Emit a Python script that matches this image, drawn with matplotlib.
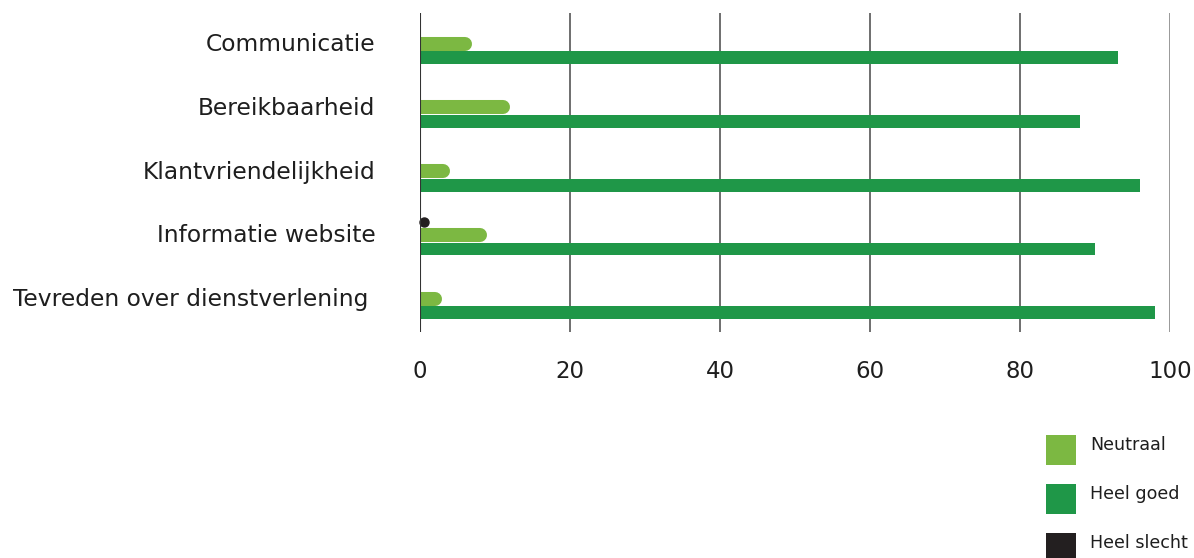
import matplotlib
matplotlib.use("Agg")
import matplotlib.pyplot as plt
from matplotlib.patches import Rectangle
import matplotlib.transforms as mtransforms
import numpy as np

categories = ["Communicatie", "Bereikbaarheid", "Klantvriendelijkheid",
              "Informatie website", "Tevreden over dienstverlening "]
neutraal = [7, 12, 4, 9, 3]
heel_goed = [93, 88, 96, 90, 98]
heel_slecht = [0, 0, 0, 1, 0]
xticks = [0, 20, 40, 60, 80, 100]
legend_labels = ["Neutraal", "Heel goed", "Heel slecht"]

c_light = "#7cb842"
c_dark = "#1f9748"
c_black = "#231f20"
c_text = "#1e1e1e"
colors = [c_light, c_dark, c_black]

W, H, DPI = 1194, 558, 100
fig = plt.figure(figsize=(W / DPI, H / DPI), dpi=DPI)
plt.rcParams["font.family"] = ["DejaVu Sans"]

left, right, top, bottom = 420, 1170, 13, 332
ax = fig.add_axes([left / W, 1 - bottom / H, (right - left) / W, (bottom - top) / H])

y = np.arange(len(categories))
bh = 0.22
px_per_unit = (right - left) / 100.0
bar_px = bh * (bottom - top) / len(categories)
lw_pt = bar_px * 72 / DPI
r_units = (bar_px / 2) / px_per_unit

# Heel goed: square bars
ax.barh(y + bh - 0.02, heel_goed, height=bh - 0.02, color=c_dark, zorder=3)
# Neutraal: rounded right end
for yi, v in zip(y, neutraal):
    lc = ax.hlines(yi - 0.02, 0, max(v - r_units, 0), color=c_light, linewidth=lw_pt, zorder=3)
    lc.set_capstyle("round")
# Heel slecht: tiny rounded dots
for yi, v in zip(y, heel_slecht):
    if v > 0:
        ax.plot([v / 2], [yi - bh], marker="o", ms=6.5, color=c_black,
                clip_on=False, zorder=4, lw=0)

ax.set_xlim(0, 100)
ax.set_ylim(len(categories) - 0.5, -0.5)
ax.set_xticks(xticks)
ax.set_xticklabels([str(t) for t in xticks])
ax.set_yticks(y)
ax.set_yticklabels(categories)
ax.tick_params(axis="x", length=0, pad=20, labelsize=16.5, labelcolor=c_text)
ax.tick_params(axis="y", length=0, pad=32, labelsize=16.8, labelcolor=c_text)
off = mtransforms.ScaledTranslation(0, 3 / DPI, fig.dpi_scale_trans)
for lab in ax.get_yticklabels():
    lab.set_transform(lab.get_transform() + off)
for s in ax.spines.values():
    s.set_visible(False)
for t in xticks:
    ax.axvline(t, color="#333333" if t == 0 else ("#888888" if t == 100 else "#555555"),
               lw=1.5 if t == 0 else 1.2, zorder=2 if t else 5)

# legend drawn manually in figure pixels
sq = 30
for i, (lab, col) in enumerate(zip(legend_labels, colors)):
    y0 = 435 + i * 49
    fig.add_artist(Rectangle((1046 / W, 1 - (y0 + sq) / H), sq / W, sq / H,
                             transform=fig.transFigure, facecolor=col, edgecolor="none"))
    fig.text(1090 / W, 1 - (y0 + sq / 2 - 5) / H, lab, fontsize=12.6, color=c_text,
             ha="left", va="center")

fig.savefig("out.png", dpi=DPI)
